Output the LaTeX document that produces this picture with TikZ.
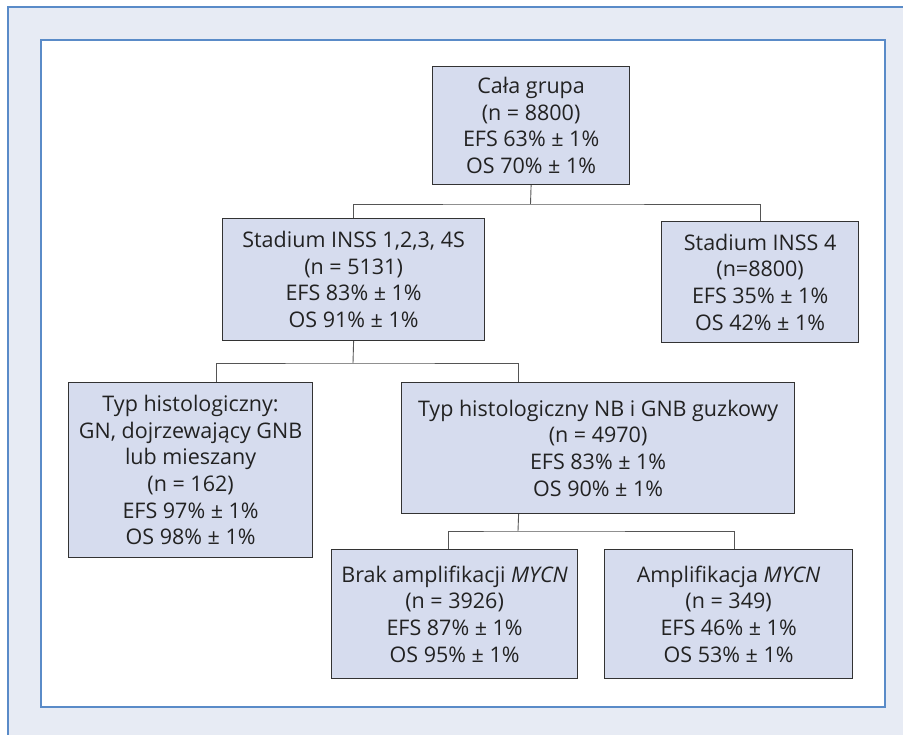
\documentclass[tikz,border=0pt]{standalone}
\usepackage{fontspec}
\setmainfont{Open Sans}
\definecolor{pagebg}{HTML}{E7EBF4}
\definecolor{frameblue}{HTML}{5A8BC8}
\definecolor{boxfill}{HTML}{D6DCEE}
\definecolor{boxline}{HTML}{333333}
\definecolor{connline}{HTML}{555555}
\definecolor{txt}{HTML}{222222}
\tikzset{
  box/.style={draw=boxline, line width=1.2pt, fill=boxfill, align=center,
    text=txt, inner sep=0pt, font=\fontsize{21.5}{26.6}\selectfont, anchor=north west},
  conn/.style={draw=connline, line width=0.9pt},
}
\begin{document}
\begin{tikzpicture}[x=1pt,y=-1pt]
\useasboundingbox (0,0) rectangle (903,735);
\clip (0,0) rectangle (903,735);
\fill[white] (0,0) rectangle (903,735);
\draw[frameblue, line width=1.5pt, fill=pagebg] (8,7) rectangle (920,760);
\draw[frameblue, line width=1.5pt, fill=white] (41,40) rectangle (885,707);

\node[box, minimum width=197pt, minimum height=118pt] (A) at (432,66)
  {Cała grupa\\(n = 8800)\\EFS 63\% ± 1\%\\OS 70\% ± 1\%};
\node[box, minimum width=262pt, minimum height=122pt] (B) at (222,218)
  {Stadium INSS 1,2,3, 4S\\(n = 5131)\\EFS 83\% ± 1\%\\OS 91\% ± 1\%};
\node[box, minimum width=197pt, minimum height=121pt] (C) at (661,221)
  {Stadium INSS 4\\(n=8800)\\EFS 35\% ± 1\%\\OS 42\% ± 1\%};
\node[box, minimum width=244pt, minimum height=175pt] (D) at (68,382)
  {Typ histologiczny:\\GN, dojrzewający GNB\\lub mieszany\\(n = 162)\\EFS 97\% ± 1\%\\OS 98\% ± 1\%};
\node[box, minimum width=393pt, minimum height=131pt] (E) at (401,382)
  {Typ histologiczny NB i GNB guzkowy\\(n = 4970)\\EFS 83\% ± 1\%\\OS 90\% ± 1\%};
\node[box, minimum width=246pt, minimum height=129pt] (F) at (331,549)
  {Brak amplifikacji \textit{MYCN}\\(n = 3926)\\EFS 87\% ± 1\%\\OS 95\% ± 1\%};
\node[box, minimum width=248pt, minimum height=129pt] (G) at (604,549)
  {Amplifikacja \textit{MYCN}\\(n = 349)\\EFS 46\% ± 1\%\\OS 53\% ± 1\%};

\coordinate (h1) at (530.5,204);
\coordinate (h2) at (353,363);
\coordinate (h3) at (518,531);
\coordinate (dtop) at ([xshift=26pt]D.north);
\coordinate (etop) at ([xshift=-79.5pt]E.north);
\coordinate (ebot) at ([xshift=-79.5pt]E.south);
\coordinate (ftop) at ([xshift=-6pt]F.north);
\coordinate (gtop) at ([xshift=6pt]G.north);

\draw[conn] (A.south) -- (h1);
\draw[conn] (B.north) |- (h1) -| (C.north);
\draw[conn] (B.south) -- (h2);
\draw[conn] (dtop) |- (h2) -| (etop);
\draw[conn] (ebot) -- (h3);
\draw[conn] (ftop) |- (h3) -| (gtop);
\end{tikzpicture}
\end{document}
